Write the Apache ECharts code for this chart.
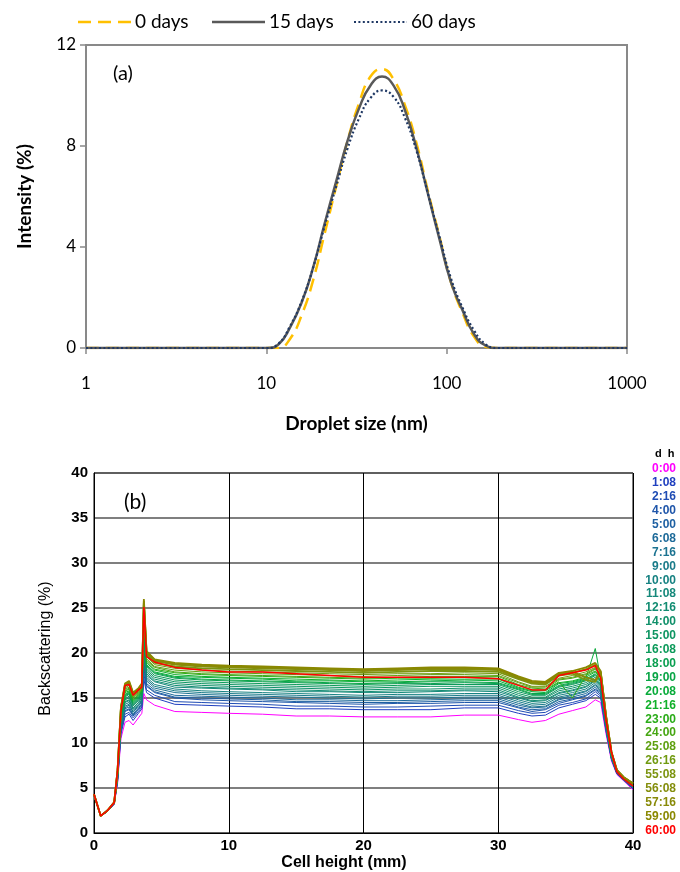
<!DOCTYPE html>
<html>
<head>
<meta charset="utf-8">
<script src="https://cdn.jsdelivr.net/npm/echarts@6/dist/echarts.min.js"></script>
<style>
html,body{margin:0;padding:0;background:#fff;}
#c{width:680px;height:872px;}
</style>
</head>
<body>
<div id="c"></div>
<script>
// ---------- Panel (a): droplet size distribution ----------
const sizes = [1, 3, 10.1, 11.7, 13.5, 15.7, 18.2, 21.0, 24.4, 28.2, 32.7, 37.8, 43.8, 50.7, 58.8, 68.1, 78.8, 91.3, 105.7, 122.4, 141.8, 164.2, 190.1, 300, 1000];
const days0  = [0, 0, 0, 0, 0.35, 1.3, 2.7, 4.5, 6.4, 8.2, 9.7, 10.75, 11.05, 10.65, 9.6, 8.1, 6.2, 4.4, 2.6, 1.4, 0.45, 0.05, 0, 0, 0];
const days15 = [0, 0, 0, 0.15, 0.8, 1.8, 3.2, 4.9, 6.6, 8.2, 9.5, 10.4, 10.75, 10.4, 9.4, 7.9, 6.1, 4.3, 2.6, 1.5, 0.55, 0.1, 0, 0, 0];
const days60 = [0, 0, 0, 0.18, 0.85, 1.85, 3.2, 4.8, 6.4, 7.9, 9.1, 9.9, 10.2, 9.95, 9.1, 7.8, 6.1, 4.4, 2.75, 1.6, 0.7, 0.15, 0, 0, 0];
const aNames = ['0 days', '15 days', '60 days'];

// ---------- Panel (b): backscattering profiles ----------
const heights = [0,0.5,1.0,1.5,1.75,2.0,2.3,2.6,2.9,3.3,3.55,3.7,3.9,4.5,6,8,10,12.5,15,17.5,20,22.5,25,27.5,30,31.5,32.5,33.5,34.5,35.5,36.5,37.2,37.6,38.0,38.4,38.8,39.3,40];
const t0000 = [4.2,1.9,2.4,3.2,5.5,10.5,12.3,12.5,12.0,12.8,13.3,15.5,14.8,14.2,13.5,13.4,13.3,13.2,13.0,13.0,12.9,12.9,12.9,13.1,13.1,12.6,12.3,12.5,13.2,13.6,14.0,14.8,14.5,11.0,8.0,6.5,5.8,4.8];
const t0108 = [4.2,1.9,2.4,3.2,5.7,11.0,12.9,13.2,12.5,13.3,13.8,17.1,15.6,15.0,14.3,14.2,14.1,14.0,13.8,13.8,13.7,13.7,13.7,13.9,13.9,13.3,13.0,13.1,13.9,14.3,14.7,15.4,15.0,11.3,8.2,6.6,5.9,4.9];
const t0216 = [4.2,1.9,2.4,3.2,5.8,11.2,13.2,13.4,12.8,13.5,14.0,17.7,15.9,15.3,14.6,14.5,14.4,14.3,14.1,14.1,14.0,14.0,14.1,14.2,14.2,13.6,13.3,13.4,14.2,14.5,14.9,15.7,15.2,11.4,8.2,6.6,5.9,4.9];
const t0400 = [4.2,1.9,2.4,3.3,5.9,11.4,13.5,13.7,13.0,13.7,14.2,18.3,16.3,15.6,15.0,14.8,14.7,14.6,14.5,14.4,14.3,14.4,14.4,14.5,14.5,13.9,13.5,13.7,14.4,14.8,15.2,15.9,15.4,11.5,8.3,6.6,5.9,5.0];
const t0500 = [4.2,1.9,2.4,3.3,6.0,11.6,13.6,13.8,13.1,13.8,14.3,18.7,16.4,15.7,15.1,15.0,14.9,14.8,14.6,14.6,14.5,14.5,14.6,14.7,14.7,14.0,13.7,13.8,14.6,14.9,15.3,16.0,15.6,11.6,8.3,6.7,5.9,5.0];
const t0608 = [4.2,1.9,2.4,3.3,6.0,11.7,13.8,14.0,13.2,13.9,14.4,19.1,16.6,15.9,15.3,15.2,15.1,15.0,14.8,14.8,14.7,14.7,14.8,14.9,14.9,14.2,13.9,14.0,14.8,15.1,15.5,16.2,15.7,11.7,8.3,6.7,5.9,5.0];
const t0716 = [4.2,1.9,2.4,3.3,6.1,11.8,13.9,14.2,13.4,14.1,14.6,19.5,16.9,16.1,15.6,15.4,15.3,15.2,15.1,15.0,14.9,15.0,15.0,15.1,15.1,14.4,14.0,14.1,14.9,15.3,15.7,16.4,15.8,11.8,8.4,6.7,6.0,5.1];
const t0900 = [4.2,1.9,2.4,3.3,6.1,12.0,14.1,14.3,13.5,14.2,14.7,19.9,17.1,16.3,15.8,15.6,15.5,15.4,15.3,15.2,15.1,15.2,15.2,15.3,15.3,14.6,14.2,14.3,15.1,15.4,15.8,16.5,16.0,11.8,8.4,6.7,6.0,5.1];
const t1000 = [4.2,1.9,2.4,3.3,6.2,12.1,14.3,14.5,13.7,14.3,14.8,20.3,17.3,16.5,16.0,15.8,15.7,15.6,15.5,15.4,15.3,15.4,15.4,15.5,15.5,14.8,14.4,14.5,15.3,15.6,16.0,16.7,16.1,11.9,8.5,6.7,6.0,5.1];
const t1108 = [4.3,1.9,2.5,3.3,6.3,12.3,14.5,14.7,13.8,14.5,15.0,20.8,17.5,16.8,16.2,16.1,16.0,15.9,15.7,15.7,15.6,15.6,15.7,15.8,15.7,15.0,14.6,14.7,15.5,15.8,16.2,16.9,16.3,12.0,8.5,6.8,6.0,5.2];
const t1216 = [4.3,1.9,2.5,3.3,6.3,12.4,14.6,14.8,13.9,14.5,15.0,21.1,17.7,16.9,16.4,16.2,16.1,16.0,15.9,15.8,15.7,15.8,15.8,15.9,15.9,15.1,14.7,14.8,15.6,15.9,16.3,17.0,16.4,12.1,8.5,6.8,6.0,5.2];
const t1400 = [4.3,1.9,2.5,3.3,6.4,12.5,14.8,15.0,14.1,14.7,15.2,21.5,17.9,17.1,16.6,16.4,16.3,16.2,16.1,16.0,15.9,16.0,16.0,16.1,16.1,15.3,14.9,15.0,15.8,16.1,16.5,17.1,16.5,12.1,8.6,6.8,6.0,5.2];
const t1500 = [4.3,1.9,2.5,3.3,6.4,12.6,14.9,15.2,14.2,14.8,15.3,21.9,18.1,17.3,16.8,16.6,16.5,16.4,16.3,16.2,16.1,16.2,16.3,16.3,16.3,15.5,15.1,15.1,16.0,16.3,16.7,17.3,16.6,12.2,8.6,6.8,6.0,5.2];
const t1608 = [4.3,1.9,2.5,3.3,6.5,12.8,15.1,15.4,14.3,14.9,15.4,22.3,18.3,17.5,17.0,16.8,16.7,16.6,16.5,16.4,16.3,16.4,16.5,16.5,16.5,15.7,15.3,15.3,16.2,16.5,16.9,17.5,16.8,12.3,8.7,6.8,6.1,5.3];
const t1800 = [4.3,1.9,2.5,3.3,6.5,12.9,15.2,15.5,14.4,15.0,15.5,22.6,18.5,17.7,17.2,17.0,16.9,16.8,16.7,16.6,16.5,16.6,16.6,16.7,16.6,15.9,15.4,15.4,16.3,16.6,17.0,17.6,16.9,12.4,8.7,6.8,6.1,5.3];
const t1900 = [4.3,1.9,2.5,3.4,6.6,13.0,15.3,15.6,14.5,15.1,15.6,22.9,18.6,17.8,17.3,17.1,17.0,16.9,16.8,16.7,16.6,16.7,16.8,16.8,16.7,16.0,15.5,15.5,16.4,16.7,17.1,17.7,17.0,12.4,8.7,6.9,6.1,5.3];
const t2008 = [4.3,1.9,2.5,3.4,6.6,13.1,15.4,15.7,14.6,15.2,15.7,23.2,18.7,17.9,17.4,17.3,17.2,17.1,16.9,16.9,16.8,16.8,16.9,17.0,16.9,16.1,15.7,15.6,16.6,16.8,17.2,20.5,17.1,12.5,8.7,6.9,6.1,5.3];
const t2116 = [4.3,1.9,2.5,3.4,6.6,13.2,15.6,15.8,14.7,15.3,15.8,23.5,18.9,18.1,17.6,17.4,17.3,17.2,17.1,17.0,16.9,17.0,17.1,17.1,17.1,16.2,15.8,15.8,16.7,16.9,17.3,17.9,17.2,12.5,8.8,6.9,6.1,5.3];
const t2300 = [4.3,1.9,2.5,3.4,6.7,13.3,15.7,16.0,14.8,15.4,15.9,23.8,19.1,18.2,17.8,17.6,17.5,17.4,17.3,17.2,17.1,17.2,17.2,17.3,17.2,16.4,15.9,15.9,16.8,15.0,17.5,18.0,17.3,12.6,8.8,6.9,6.1,5.4];
const t2400 = [4.3,1.9,2.5,3.4,6.7,13.4,15.8,16.1,15.0,15.5,16.0,24.1,19.2,18.4,17.9,17.7,17.6,17.5,17.4,17.3,17.2,17.3,17.4,17.4,17.4,16.5,16.1,16.0,17.0,17.2,17.6,18.2,17.4,12.6,8.8,6.9,6.1,5.4];
const t2508 = [4.3,1.9,2.5,3.4,6.8,13.5,16.0,16.2,15.1,15.6,16.1,24.4,19.4,18.5,18.1,17.9,17.8,17.7,17.6,17.5,17.4,17.5,17.6,17.6,17.5,16.7,16.2,16.2,17.1,17.3,17.7,18.3,17.5,12.7,8.9,6.9,6.1,5.4];
const t2616 = [4.3,1.9,2.5,3.4,6.8,13.6,16.1,16.4,15.2,15.7,16.2,24.7,19.6,18.7,18.3,18.1,18.0,17.9,17.8,17.7,17.6,17.7,17.7,17.8,17.7,16.8,16.3,16.3,17.2,17.5,17.9,18.4,17.6,12.8,8.9,6.9,6.2,5.4];
const t5508 = [4.3,1.9,2.5,3.4,6.9,13.8,16.3,16.6,15.3,15.9,16.4,25.3,19.8,18.9,18.5,18.3,18.2,18.1,18.0,17.9,17.8,17.9,18.0,18.0,17.9,17.1,16.6,16.5,17.5,17.7,17.0,16.8,17.8,12.9,8.9,7.0,6.2,5.5];
const t5608 = [4.3,1.9,2.5,3.4,6.9,13.9,16.4,16.7,15.5,16.0,16.5,25.6,20.0,19.1,18.7,18.5,18.4,18.3,18.2,18.1,18.0,18.1,18.2,18.2,18.1,17.2,16.7,16.6,17.6,17.8,18.2,18.7,17.9,12.9,9.0,7.0,6.2,5.5];
const t5716 = [4.3,1.9,2.5,3.4,7.0,13.9,16.5,16.8,15.5,16.0,16.5,25.8,20.1,19.2,18.8,18.6,18.5,18.4,18.3,18.2,18.1,18.2,18.3,18.3,18.2,17.3,16.8,16.7,17.7,17.9,17.3,17.0,17.9,13.0,9.0,7.0,6.2,5.5];
const t5900 = [4.3,1.9,2.5,3.4,7.0,14.0,16.6,16.9,15.6,16.1,16.6,26.0,20.2,19.3,18.9,18.7,18.6,18.5,18.4,18.3,18.2,18.3,18.4,18.4,18.3,17.4,16.9,16.8,17.8,18.0,18.4,18.9,18.0,13.0,9.0,7.0,6.2,5.5];
const t6000 = [4.3,1.9,2.5,3.4,7.0,13.5,16.4,16.5,15.3,15.9,16.2,25.1,19.6,19.0,18.4,18.1,17.9,17.9,17.7,17.5,17.3,17.3,17.3,17.3,17.15,16.4,15.9,15.9,17.5,17.8,18.1,18.6,17.2,12.5,9.0,6.8,6.0,5.2];

const bLabels = ['0:00','1:08','2:16','4:00','5:00','6:08','7:16','9:00','10:00','11:08','12:16','14:00','15:00','16:08','18:00','19:00','20:08','21:16','23:00','24:00','25:08','26:16','55:08','56:08','57:16','59:00','60:00'];
const bValues = [t0000,t0108,t0216,t0400,t0500,t0608,t0716,t0900,t1000,t1108,t1216,t1400,t1500,t1608,t1800,t1900,t2008,t2116,t2300,t2400,t2508,t2616,t5508,t5608,t5716,t5900,t6000];
const bColors = ['#ff00ff','#1f3fbf','#1f4cb4','#1f56aa','#1e60a2','#1d6a99','#1c7391','#1a7b89','#178282','#15887a','#128c72','#10906a','#0e9562','#0c9a5a','#0a9f50','#09a546','#08ab3a','#10b02a','#2aac18','#46a612','#5ea010','#709a10','#7c9410','#848e0c','#888a08','#8a8800','#ff0000'];

const FA = 'Lato, "Open Sans", sans-serif';
const FB = '"Liberation Sans", Arial, sans-serif';

function pairs(xs, ys) { return xs.map((x, i) => [x, ys[i]]); }

const aStyles = [
  {color: '#FFC000', width: 2.5, type: [13, 7]},
  {color: '#595959', width: 2.5, type: 'solid'},
  {color: '#1F3864', width: 2.2, type: [2, 2.4]}
];
const aValues = [days0, days15, days60];

const series = [];
aNames.forEach((nm, i) => {
  series.push({name: nm, type: 'line', xAxisIndex: 0, yAxisIndex: 0, data: pairs(sizes, aValues[i]),
    symbol: 'none', smooth: 0.5, lineStyle: aStyles[i], itemStyle: {color: aStyles[i].color}, z: 3 + i});
});
bLabels.forEach((lab, i) => {
  const olive = i >= 22 && i <= 25;
  series.push({
    name: lab, type: 'line', xAxisIndex: 1, yAxisIndex: 1, data: pairs(heights, bValues[i]),
    symbol: 'none', smooth: false,
    lineStyle: {color: bColors[i], width: (i === 26) ? 1.5 : (olive ? 1.8 : 1)},
    itemStyle: {color: bColors[i]}, z: 3
  });
});

const graphics = [
  {type: 'text', left: 113, top: 64, style: {text: '(a)', font: '20px ' + FA, fill: '#000'}},
  {type: 'text', left: 124, top: 492, style: {text: '(b)', font: '21px ' + FA, fill: '#000'}},
  {type: 'text', left: 655, top: 448, style: {text: 'd  h', font: 'bold 11px ' + FB, fill: '#000'}}
];
// legend of panel (a)
const aLegendX = [78, 212, 354];
aNames.forEach((nm, i) => {
  const st = aStyles[i];
  graphics.push({type: 'line', shape: {x1: aLegendX[i], y1: 22, x2: aLegendX[i] + 53, y2: 22},
    style: {stroke: st.color, lineWidth: st.width, lineDash: Array.isArray(st.type) ? st.type : null}});
  graphics.push({type: 'text', x: aLegendX[i] + 57, y: 22,
    style: {text: nm, font: '19px ' + FA, fill: '#000', textVerticalAlign: 'middle'}});
});
// legend of panel (b)
bLabels.forEach((lab, i) => {
  graphics.push({type: 'text', x: 676, y: 469 + i * 13.9,
    style: {text: lab, font: 'bold 12px ' + FB, fill: bColors[i], textAlign: 'right', textVerticalAlign: 'middle'}});
});

const option = {
  animation: false,
  backgroundColor: '#fff',
  grid: [
    {left: 86, top: 45, width: 541, height: 303, show: true, borderColor: '#898989', borderWidth: 2},
    {left: 94, top: 473, width: 539, height: 360, show: true, borderColor: '#000', borderWidth: 1}
  ],
  xAxis: [
    {type: 'log', logBase: 10, min: 1, max: 1000, gridIndex: 0,
     axisLine: {show: true, lineStyle: {color: '#898989', width: 2}},
     axisTick: {show: true, length: 6, lineStyle: {color: '#898989', width: 1.5}},
     axisLabel: {fontFamily: FA, fontSize: 17, color: '#000', margin: 27, formatter: v => String(Math.round(v))},
     splitLine: {show: false},
     name: 'Droplet size (nm)', nameLocation: 'middle', nameGap: 66,
     nameTextStyle: {fontFamily: FA, fontSize: 19, fontWeight: 'bold', color: '#000'}},
    {type: 'value', min: 0, max: 40, interval: 10, gridIndex: 1,
     axisLine: {show: true, lineStyle: {color: '#000', width: 1}},
     axisTick: {show: false},
     axisLabel: {fontFamily: FB, fontSize: 15, fontWeight: 'bold', color: '#000', margin: 5},
     splitLine: {show: true, lineStyle: {color: '#000', width: 1}},
     name: 'Cell height (mm)', nameLocation: 'middle', nameGap: 22,
     nameTextStyle: {fontFamily: FB, fontSize: 16, fontWeight: 'bold', color: '#000', padding: [0, 39, 0, 0]}}
  ],
  yAxis: [
    {type: 'value', min: 0, max: 12, interval: 4, gridIndex: 0,
     axisLine: {show: true, lineStyle: {color: '#898989', width: 2}},
     axisTick: {show: true, length: 6, lineStyle: {color: '#898989', width: 1.5}},
     axisLabel: {fontFamily: FA, fontSize: 17, color: '#000', margin: 10},
     splitLine: {show: false},
     name: 'Intensity (%)', nameLocation: 'middle', nameGap: 52, nameRotate: 90,
     nameTextStyle: {fontFamily: FA, fontSize: 19, fontWeight: 'bold', color: '#000'}},
    {type: 'value', min: 0, max: 40, interval: 5, gridIndex: 1,
     axisLine: {show: true, lineStyle: {color: '#000', width: 1}},
     axisTick: {show: false},
     axisLabel: {fontFamily: FB, fontSize: 15, fontWeight: 'bold', color: '#000', margin: 6},
     splitLine: {show: true, lineStyle: {color: '#555', width: 1.6}},
     name: 'Backscattering (%)', nameLocation: 'middle', nameGap: 40, nameRotate: 90,
     nameTextStyle: {fontFamily: FB, fontSize: 16, color: '#000', padding: [0, 0, 0, 9]}}
  ],
  graphic: graphics,
  series: series
};

const chart = echarts.init(document.getElementById('c'), null, {renderer: 'canvas'});
chart.setOption(option);
</script>
</body>
</html>
